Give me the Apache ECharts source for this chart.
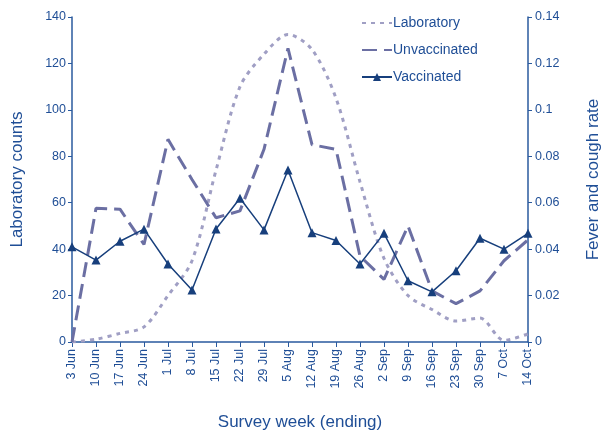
<!DOCTYPE html>
<html>
<head>
<meta charset="utf-8">
<script src="https://cdn.jsdelivr.net/npm/echarts@6/dist/echarts.min.js"></script>
<style>
  html, body { margin: 0; padding: 0; background: #fff; }
  #chart { width: 601px; height: 436px; }
</style>
</head>
<body>
<div id="chart"></div>
<script>
// weekly survey data
const weeks = ['3 Jun', '10 Jun', '17 Jun', '24 Jun', '1 Jul', '8 Jul', '15 Jul', '22 Jul', '29 Jul',
  '5 Aug', '12 Aug', '19 Aug', '26 Aug', '2 Sep', '9 Sep', '16 Sep', '23 Sep', '30 Sep', '7 Oct', '14 Oct'];
const laboratory = [0, 1.2, 3.7, 6.5, 20, 35, 74, 110, 124, 132.5, 126, 105, 69, 36, 20, 14, 9, 10.3, 0.7, 3.5];
const unvaccinated = [0, 0.0576, 0.0572, 0.042, 0.0873, 0.070, 0.0535, 0.0565, 0.083, 0.1265,
  0.085, 0.083, 0.037, 0.027, 0.050, 0.022, 0.0165, 0.022, 0.035, 0.044];
const vaccinated = [0.041, 0.0353, 0.0434, 0.0486, 0.0336, 0.0224, 0.0487, 0.0619, 0.0483, 0.0741,
  0.0471, 0.0437, 0.0336, 0.0468, 0.0264, 0.0216, 0.0307, 0.0447, 0.04, 0.0468];

const textColor = '#1f4e96';
const axisColor = '#2a5a9e';
const font = 'Liberation Sans, Arial, sans-serif';

const chart = echarts.init(document.getElementById('chart'));

const option = {
  animation: false,
  textStyle: { fontFamily: font },
  grid: { left: 72, right: 73, top: 17, bottom: 94, outerBoundsMode: 'none', containLabel: false },
  legend: {
    orient: 'vertical',
    left: 356,
    top: 11,
    itemWidth: 30,
    itemHeight: 10,
    itemGap: 13,
    textStyle: { color: textColor, fontSize: 14, fontFamily: font, padding: [0, 0, 0, -4] },
    data: [
      { name: 'Laboratory', itemStyle: { opacity: 0 } },
      { name: 'Unvaccinated', itemStyle: { opacity: 0 } },
      { name: 'Vaccinated' }
    ]
  },
  xAxis: {
    type: 'category',
    data: weeks,
    boundaryGap: false,
    name: 'Survey week (ending)',
    nameLocation: 'middle',
    nameGap: 72,
    nameTextStyle: { color: textColor, fontSize: 17 },
    axisLine: { lineStyle: { color: axisColor, width: 1.5 } },
    axisTick: { alignWithLabel: true, length: 5, lineStyle: { color: axisColor } },
    axisLabel: { rotate: 90, color: textColor, fontSize: 12.5, margin: 7, interval: 0 },
    splitLine: { show: false }
  },
  yAxis: [
    {
      type: 'value',
      min: 0,
      max: 140,
      interval: 20,
      name: 'Laboratory counts',
      nameLocation: 'middle',
      nameRotate: 90,
      nameGap: 46,
      nameTextStyle: { color: textColor, fontSize: 17 },
      axisLine: { show: true, lineStyle: { color: axisColor, width: 1.5 } },
      axisTick: { show: true, length: 4, lineStyle: { color: axisColor } },
      axisLabel: { color: textColor, fontSize: 12.5, margin: 6 },
      splitLine: { show: false }
    },
    {
      type: 'value',
      min: 0,
      max: 0.14,
      interval: 0.02,
      name: 'Fever and cough rate',
      nameLocation: 'middle',
      nameRotate: 90,
      nameGap: 57,
      nameTextStyle: { color: textColor, fontSize: 17 },
      axisLine: { show: true, lineStyle: { color: axisColor, width: 1.5 } },
      axisTick: { show: true, length: 4, lineStyle: { color: axisColor } },
      axisLabel: { color: textColor, fontSize: 12.5, margin: 7 },
      splitLine: { show: false }
    }
  ],
  series: [
    {
      name: 'Laboratory',
      type: 'line',
      yAxisIndex: 0,
      data: laboratory,
      smooth: 0.3,
      symbol: 'none',
      color: '#a09fc4',
      lineStyle: { color: '#a09fc4', width: 3, type: [4, 5] }
    },
    {
      name: 'Unvaccinated',
      type: 'line',
      yAxisIndex: 1,
      data: unvaccinated,
      symbol: 'none',
      color: '#6b6fa3',
      lineStyle: { color: '#6b6fa3', width: 3, type: [15, 7] }
    },
    {
      name: 'Vaccinated',
      type: 'line',
      yAxisIndex: 1,
      data: vaccinated,
      symbol: 'triangle',
      symbolSize: 9,
      color: '#173f7c',
      itemStyle: { color: '#173f7c' },
      lineStyle: { color: '#173f7c', width: 1.5 }
    }
  ]
};

chart.setOption(option);
window.addEventListener('resize', () => chart.resize());
</script>
</body>
</html>
